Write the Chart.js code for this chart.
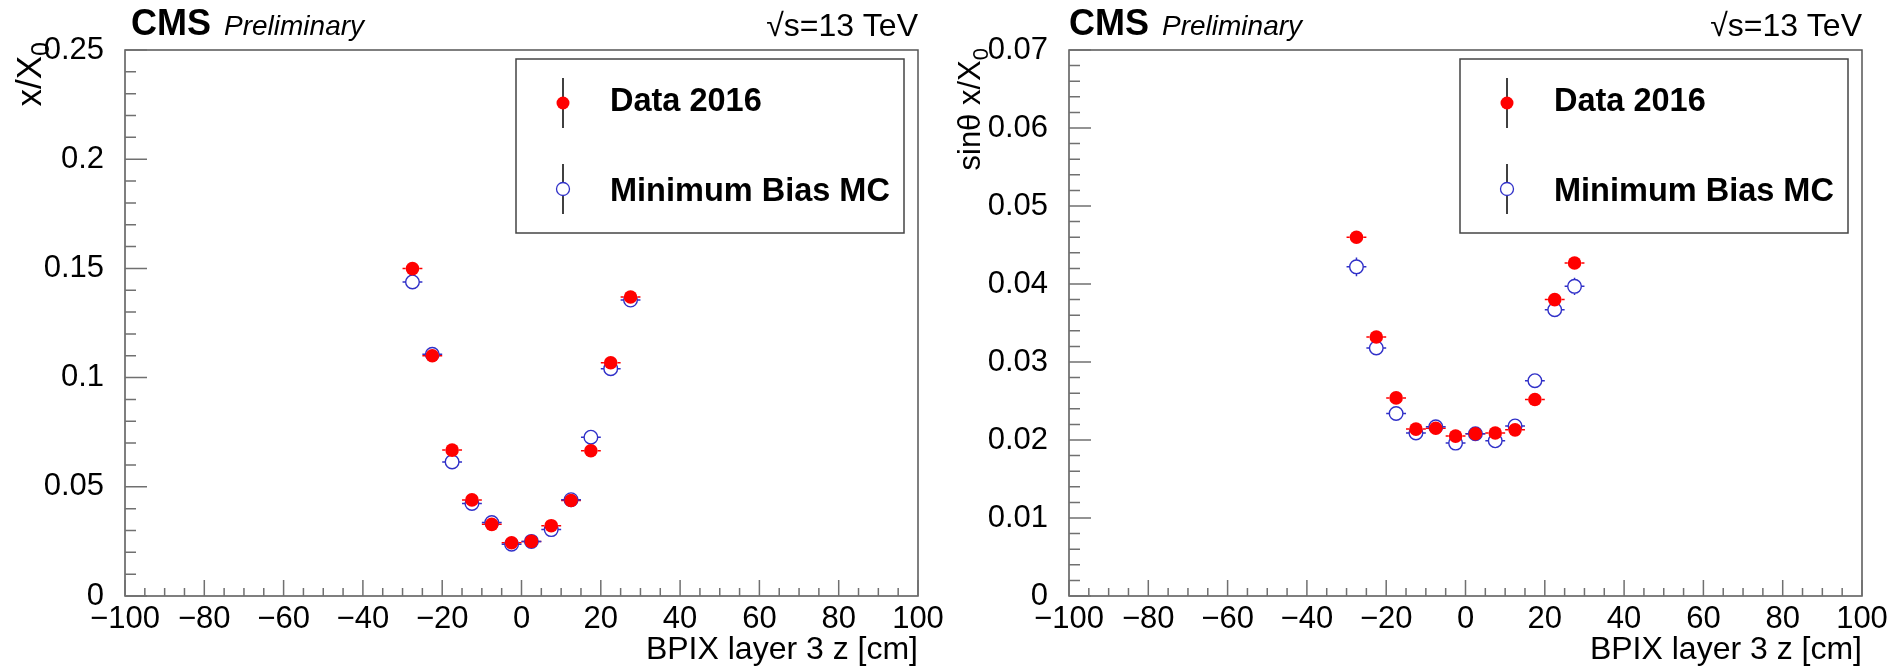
<!DOCTYPE html>
<html>
<head>
<meta charset="utf-8">
<script src="https://cdn.jsdelivr.net/npm/chart.js@4/dist/chart.umd.min.js"></script>
<style>
  html, body { margin: 0; padding: 0; background: #fff; }
  #wrap { position: relative; width: 1895px; height: 667px; overflow: hidden; background: #fff; }
  #wrap canvas { position: absolute; top: 0; }
</style>
</head>
<body>
<div id="wrap">
  <canvas id="thickness" width="947" height="667" style="left:0px"></canvas>
  <canvas id="projected" width="948" height="667" style="left:947px"></canvas>
</div>
<script>
// ---- values: BPIX layer 3 material budget per z bin ----
const zCenters = [-27.5, -22.5, -17.5, -12.5, -7.5, -2.5, 2.5, 7.5, 12.5, 17.5, 22.5, 27.5];
const zHalfWidth = [2.5, 2.5, 2.5, 2.5, 2.5, 2.5, 2.5, 2.5, 2.5, 2.5, 2.5, 2.5];

// x/X0
const dataThick    = [0.1499, 0.1100, 0.0668, 0.0440, 0.0328, 0.0244, 0.0250, 0.0322, 0.0437, 0.0665, 0.1068, 0.1369];
const dataThickErr = [0.0006, 0.0005, 0.0004, 0.0004, 0.0003, 0.0003, 0.0003, 0.0003, 0.0004, 0.0004, 0.0005, 0.0006];
const mcThick      = [0.1438, 0.1107, 0.0614, 0.0424, 0.0336, 0.0237, 0.0250, 0.0304, 0.0441, 0.0727, 0.1041, 0.1355];
const mcThickErr   = [0.0020, 0.0015, 0.0010, 0.0008, 0.0008, 0.0008, 0.0008, 0.0008, 0.0008, 0.0010, 0.0015, 0.0020];

// sin(theta) x/X0
const dataProj     = [0.0460, 0.0332, 0.0254, 0.0214, 0.0215, 0.0205, 0.0208, 0.0209, 0.0213, 0.0252, 0.0380, 0.0427];
const dataProjErr  = [0.0003, 0.0002, 0.0002, 0.0002, 0.0002, 0.0002, 0.0002, 0.0002, 0.0002, 0.0002, 0.0002, 0.0003];
const mcProj       = [0.0422, 0.0318, 0.0234, 0.0209, 0.0217, 0.0196, 0.0208, 0.0199, 0.0218, 0.0276, 0.0367, 0.0397];
const mcProjErr    = [0.0012, 0.0007, 0.0005, 0.0004, 0.0004, 0.0004, 0.0004, 0.0004, 0.0004, 0.0005, 0.0007, 0.0011];

// ---- tick labels ----
const xTickLabels = ['\u2212100', '\u221280', '\u221260', '\u221240', '\u221220', '0', '20', '40', '60', '80', '100'];
const yTickLabelsThick = ['0', '0.05', '0.1', '0.15', '0.2', '0.25'];
const yTickLabelsProj  = ['0', '0.01', '0.02', '0.03', '0.04', '0.05', '0.06', '0.07'];

const seriesNames = ['Data 2016', 'Minimum Bias MC'];
const xTitle = 'BPIX layer 3 z [cm]';

// ---- styling ----
const FONT = '"Liberation Sans", Arial, Helvetica, sans-serif';
const RED = '#ff0000';
const BLUE = '#3030c8';
const FRAME = '#555555';
const TICK = '#707070';
const MARKER_R = 6.8;

Chart.defaults.font.family = FONT;
Chart.defaults.color = '#000';

function points(vals, errs) {
  return zCenters.map((z, i) => ({ x: z, y: vals[i], xErr: zHalfWidth[i], yErr: errs[i] }));
}

function rootStyle(p) {
  return {
    id: 'rootStyle',
    beforeDatasetsDraw(chart) {
      // error bars, left open where the marker sits
      const { ctx, scales: { x, y } } = chart;
      const gap = MARKER_R;
      ctx.save();
      ctx.lineWidth = 1.5;
      chart.data.datasets.forEach(ds => {
        ctx.strokeStyle = ds.borderColor;
        ds.data.forEach(pt => {
          const px = x.getPixelForValue(pt.x);
          const py = y.getPixelForValue(pt.y);
          const xl = x.getPixelForValue(pt.x - pt.xErr);
          const xr = x.getPixelForValue(pt.x + pt.xErr);
          const yt = y.getPixelForValue(pt.y + pt.yErr);
          const yb = y.getPixelForValue(pt.y - pt.yErr);
          ctx.beginPath();
          if (px - xl > gap) { ctx.moveTo(xl, py); ctx.lineTo(px - gap, py); }
          if (xr - px > gap) { ctx.moveTo(px + gap, py); ctx.lineTo(xr, py); }
          if (py - yt > gap) { ctx.moveTo(px, yt); ctx.lineTo(px, py - gap); }
          if (yb - py > gap) { ctx.moveTo(px, py + gap); ctx.lineTo(px, yb); }
          ctx.stroke();
        });
      });
      ctx.restore();
    },
    afterDraw(chart) {
      const { ctx, chartArea: a, scales: { x, y } } = chart;
      ctx.save();

      // frame
      ctx.strokeStyle = FRAME;
      ctx.lineWidth = 1.5;
      ctx.strokeRect(a.left, a.top, a.right - a.left, a.bottom - a.top);

      // inward ticks, major + minor
      ctx.strokeStyle = TICK;
      ctx.lineWidth = 1.5;
      ctx.beginPath();
      const nY = Math.round((y.max - y.min) / (p.yStep / 5));
      for (let i = 0; i <= nY; i++) {
        const py = y.getPixelForValue(y.min + i * p.yStep / 5);
        const len = (i % 5 === 0) ? 22 : 11;
        ctx.moveTo(a.left, py);
        ctx.lineTo(a.left + len, py);
      }
      const nX = Math.round((x.max - x.min) / 5);
      for (let i = 0; i <= nX; i++) {
        const px = x.getPixelForValue(x.min + i * 5);
        const len = (i % 4 === 0) ? 16 : 8;
        ctx.moveTo(px, a.bottom);
        ctx.lineTo(px, a.bottom - len);
      }
      ctx.stroke();

      // header
      ctx.fillStyle = '#000';
      ctx.textBaseline = 'alphabetic';
      ctx.textAlign = 'left';
      ctx.font = 'bold 36px ' + FONT;
      ctx.fillText('CMS', p.cmsX, 35);
      ctx.font = 'italic 28px ' + FONT;
      ctx.fillText('Preliminary', p.cmsX + 93, 35);
      ctx.font = '32px ' + FONT;
      ctx.textAlign = 'right';
      ctx.fillText('\u221As=13 TeV', a.right, 36);

      // y-axis title with subscript, rotated
      ctx.save();
      ctx.translate(p.yTitleX, p.yTitleEnd);
      ctx.rotate(-Math.PI / 2);
      ctx.textAlign = 'left';
      const subSize = Math.round(p.yTitleSize * 0.7);
      ctx.font = subSize + 'px ' + FONT;
      const wSub = ctx.measureText('0').width;
      ctx.font = p.yTitleSize + 'px ' + FONT;
      const wMain = ctx.measureText(p.yTitle).width;
      ctx.fillText(p.yTitle, -(wMain + wSub), 0);
      ctx.font = subSize + 'px ' + FONT;
      ctx.fillText('0', -wSub, 8);
      ctx.restore();

      // legend box
      const bw = 388, bh = 174;
      const bx = a.right - 14 - bw, by = 59;
      ctx.strokeStyle = '#444';
      ctx.lineWidth = 1.5;
      ctx.strokeRect(bx, by, bw, bh);
      const rows = [
        { label: seriesNames[0], cy: by + 44, ty: by + 52, filled: true },
        { label: seriesNames[1], cy: by + 130, ty: by + 142, filled: false }
      ];
      rows.forEach(r => {
        const mx = bx + 47;
        ctx.strokeStyle = '#000';
        ctx.lineWidth = 1.5;
        ctx.beginPath();
        ctx.moveTo(mx, r.cy - 25);
        ctx.lineTo(mx, r.cy + 25);
        ctx.stroke();
        ctx.beginPath();
        ctx.arc(mx, r.cy, 6.5, 0, Math.PI * 2);
        if (r.filled) {
          ctx.fillStyle = RED;
          ctx.fill();
        } else {
          ctx.fillStyle = '#fff';
          ctx.fill();
          ctx.strokeStyle = BLUE;
          ctx.lineWidth = 1.3;
          ctx.stroke();
        }
        ctx.fillStyle = '#000';
        ctx.textAlign = 'left';
        ctx.font = 'bold 32.5px ' + FONT;
        ctx.fillText(r.label, bx + 94, r.ty);
      });

      ctx.restore();
    }
  };
}

function makePanel(canvasId, p) {
  return new Chart(document.getElementById(canvasId), {
    type: 'scatter',
    data: {
      datasets: [
        {
          label: seriesNames[0],
          data: points(p.dataY, p.dataErr),
          borderColor: RED,
          backgroundColor: RED,
          pointRadius: MARKER_R,
          pointBackgroundColor: RED,
          pointBorderColor: RED,
          pointBorderWidth: 0,
          showLine: false,
          order: 0
        },
        {
          label: seriesNames[1],
          data: points(p.mcY, p.mcErr),
          borderColor: BLUE,
          backgroundColor: 'rgba(0,0,0,0)',
          pointRadius: MARKER_R,
          pointBackgroundColor: 'rgba(0,0,0,0)',
          pointBorderColor: BLUE,
          pointBorderWidth: 1.4,
          showLine: false,
          order: 1
        }
      ]
    },
    options: {
      responsive: false,
      animation: false,
      devicePixelRatio: 1,
      events: [],
      layout: { padding: { left: 0, right: p.padRight, top: 50, bottom: 0 } },
      plugins: { legend: { display: false }, tooltip: { enabled: false } },
      scales: {
        x: {
          type: 'linear',
          min: -100, max: 100,
          grid: { display: false },
          border: { display: false },
          ticks: {
            stepSize: 20,
            autoSkip: false,
            maxRotation: 0,
            padding: 0,
            color: '#000',
            font: { size: 31, lineHeight: 1.0 },
            callback: v => xTickLabels[Math.round((v + 100) / 20)]
          },
          title: {
            display: true,
            text: xTitle,
            align: 'end',
            color: '#000',
            font: { size: 32, lineHeight: 1.0 },
            padding: { top: 0, bottom: 1 }
          },
          afterFit: s => { s.height = 71; }
        },
        y: {
          type: 'linear',
          min: 0, max: p.yMax,
          grid: { display: false },
          border: { display: false },
          ticks: {
            stepSize: p.yStep,
            padding: 13,
            color: '#000',
            font: { size: 31 },
            callback: v => p.yLabels[Math.round(v / p.yStep)]
          },
          afterFit: s => { s.width = p.yAxisWidth; }
        }
      }
    },
    plugins: [rootStyle(p)]
  });
}

makePanel('thickness', {
  dataY: dataThick, dataErr: dataThickErr, mcY: mcThick, mcErr: mcThickErr,
  yMax: 0.25, yStep: 0.05, yLabels: yTickLabelsThick,
  yAxisWidth: 125, padRight: 29,
  cmsX: 131, yTitle: 'x/X', yTitleX: 41, yTitleEnd: 42, yTitleSize: 35
});

makePanel('projected', {
  dataY: dataProj, dataErr: dataProjErr, mcY: mcProj, mcErr: mcProjErr,
  yMax: 0.07, yStep: 0.01, yLabels: yTickLabelsProj,
  yAxisWidth: 122, padRight: 33,
  cmsX: 122, yTitle: 'sin\u03B8 x/X', yTitleX: 33, yTitleEnd: 48, yTitleSize: 31
});
</script>
</body>
</html>
